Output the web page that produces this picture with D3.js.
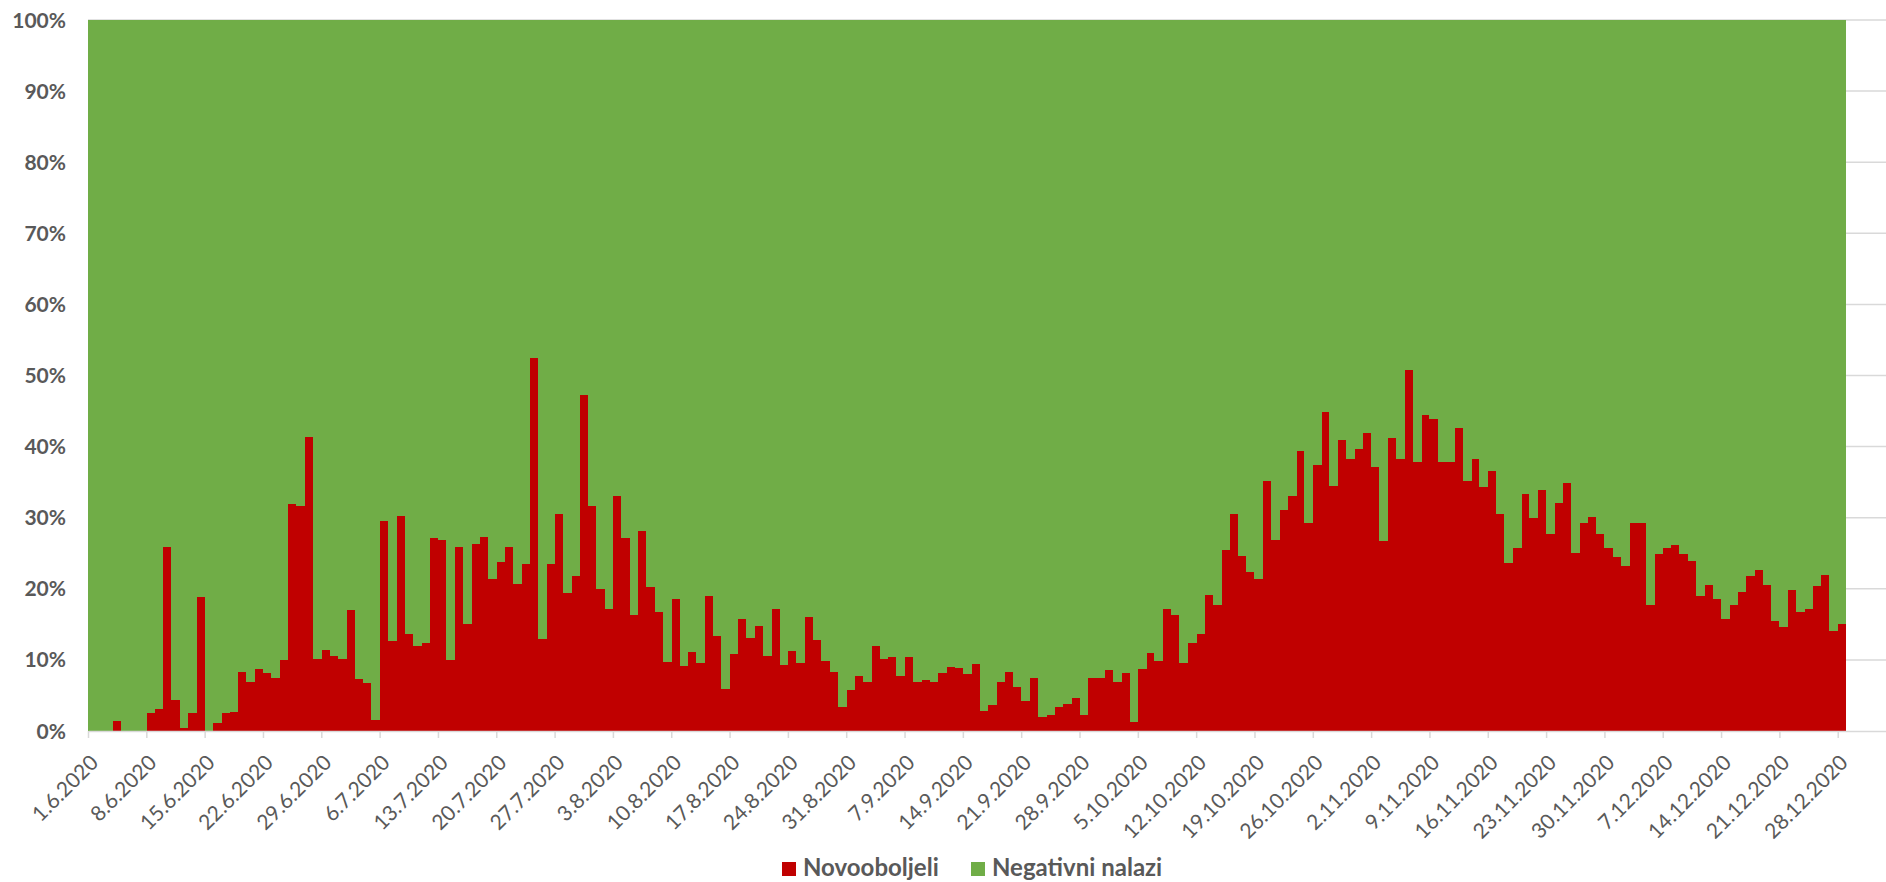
<!DOCTYPE html>
<meta charset="utf-8">
<style>
body { margin: 0; background: #fff; }
svg text { font-family: Lato, "Noto Sans", sans-serif; fill: #595959; }
.grid line { stroke: #d9d9d9; stroke-width: 1.5px; }
.xaxis path, .xaxis line { stroke: #d9d9d9; stroke-width: 1.5px; }
</style>
<body>
<svg id="chart" width="1886" height="882"></svg>
<script src="https://cdn.jsdelivr.net/npm/d3@7"></script>
<script>

// share of new cases among tests, %, one value per day from 1.6.2020
var novooboljeli = [
  0,0,0,1.4,0,0,0, 2.55,3.16,25.9,4.3,0.45,2.55,18.9, 0,1.15,2.55,2.7,8.3,6.96,8.65,
  8.1,7.4,10.05,31.9,31.6,41.4,10.1, 11.4,10.6,10.1,17.0,7.3,6.7,1.5,
  29.5,12.6,30.2,13.6,11.9,12.4,27.2, 26.8,10.05,25.9,15.0,26.3,27.3,21.4,
  23.8,25.9,20.65,23.5,52.4,12.9,23.5, 30.5,19.4,21.8,47.2,31.6,19.95,17.1,
  33.0,27.1,16.3,28.1,20.2,16.7,9.7,
  18.5,9.2,11.1,9.5,18.95,13.4,5.9, 10.8,15.7,13.15,14.75,10.5,17.1,9.25,
  11.2,9.5,16.1,12.8,9.8,8.3,3.35, 5.7,7.7,6.96,11.9,10.1,10.4,7.7,
  10.4,6.9,7.15,6.9,8.2,9.0,8.8,
  8.0,9.4,2.75,3.6,6.96,8.3,6.2, 4.2,7.4,1.95,2.3,3.35,3.8,4.6,
  2.2,7.5,7.5,8.55,6.9,8.1,1.25, 8.7,11.0,9.8,17.1,16.3,9.5,12.4,
  13.6,19.1,17.7,25.5,30.5,24.6,22.3,
  21.35,35.2,26.8,31.15,33.0,39.35,29.2, 37.4,44.8,34.5,40.95,38.3,39.6,41.9,
  37.2,26.7,41.2,38.2,50.8,37.8,44.4, 43.9,37.8,37.9,42.6,35.2,38.3,34.3,
  36.5,30.5,23.65,25.7,33.3,30.0,33.9,
  27.7,32.1,34.95,25.0,29.2,30.05,27.7, 25.8,24.45,23.2,29.3,29.2,17.7,24.9,
  25.8,26.1,24.9,23.9,18.95,20.6,18.6, 15.8,17.7,19.6,21.85,22.6,20.6,15.45,
  14.65,19.85,16.8,17.1,20.4,21.9,14.05, 15.0
];
// 100% stacked: the rest of the day's tests were negative
var negativni = novooboljeli.map(function(v){ return 100 - v; });

var seriesNames = ["Novooboljeli", "Negativni nalazi"];
var seriesColors = ["#c00000", "#70ad47"];
var yTicks = [0,10,20,30,40,50,60,70,80,90,100];

// day categories; the axis runs a few days past the last value
var fmt = d3.timeFormat("%-d.%-m.%Y");
var days = d3.timeDay.range(new Date(2020,5,1), new Date(2021,0,4)).map(fmt);
var labelEvery = 7;

var svg = d3.select("#chart");
var plotLeft = 88, plotTop = 20, plotBottom = 731;
var step = 8.332;

var x = d3.scaleBand()
  .domain(d3.range(days.length))
  .range([plotLeft, plotLeft + step*days.length])
  .padding(0);
var xEdge = d3.scaleLinear().domain([0, days.length]).range([plotLeft, plotLeft + step*days.length]);
var y = d3.scaleLinear().domain([0,100]).range([plotBottom, plotTop]);

// gridlines
svg.append("g").attr("class","grid")
  .selectAll("line").data(yTicks.slice(1)).enter().append("line")
  .attr("x1", plotLeft).attr("x2", xEdge.range()[1])
  .attr("y1", function(d){ return y(d); }).attr("y2", function(d){ return y(d); });

var rows = novooboljeli.map(function(v,i){ return {i:i, novo:v, neg:negativni[i]}; });
var stack = d3.stack().keys(["novo","neg"])(rows);

svg.append("g").selectAll("g").data(stack).enter().append("g")
  .attr("fill", function(d,k){ return seriesColors[k]; })
  .selectAll("rect").data(function(d){ return d; }).enter().append("rect")
  .attr("shape-rendering","crispEdges")
  .attr("x", function(d){ return x(d.data.i); })
  .attr("width", x.bandwidth() + 0.4)
  .attr("y", function(d){ return y(d[1]); })
  .attr("height", function(d){ return y(d[0]) - y(d[1]); });

// x axis, ticks at category edges, labels every 7 days
var tickIdx = d3.range(0, days.length, labelEvery).filter(function(i){ return i < novooboljeli.length; });
var xAxis = svg.append("g").attr("class","xaxis")
  .attr("transform","translate(0," + plotBottom + ")")
  .call(d3.axisBottom(xEdge).tickValues(tickIdx).tickSize(7).tickSizeOuter(0)
    .tickFormat(function(i){ return days[i]; }));
xAxis.selectAll("text")
  .attr("x", null).attr("y", null).attr("dy", null)
  .attr("text-anchor","end")
  .attr("transform","translate(11,33) rotate(-45)")
  .style("font-size","21px");

// y axis labels
svg.append("g").selectAll("text").data(yTicks).enter().append("text")
  .attr("x", 66)
  .attr("y", function(d){ return y(d); })
  .attr("dy","0.36em")
  .attr("text-anchor","end")
  .style("font-size","21px").style("font-weight","bold")
  .text(function(d){ return d + "%"; });

// legend
var legendX = [782, 971];
var lg = svg.append("g").selectAll("g").data(seriesNames).enter().append("g")
  .attr("transform", function(d,k){ return "translate(" + legendX[k] + ",862)"; });
lg.append("rect").attr("width",14).attr("height",14)
  .attr("fill", function(d,k){ return seriesColors[k]; });
lg.append("text").attr("x",21).attr("y",14)
  .style("font-size","24px").style("font-weight","bold")
  .text(function(d){ return d; });

</script>
</body>
